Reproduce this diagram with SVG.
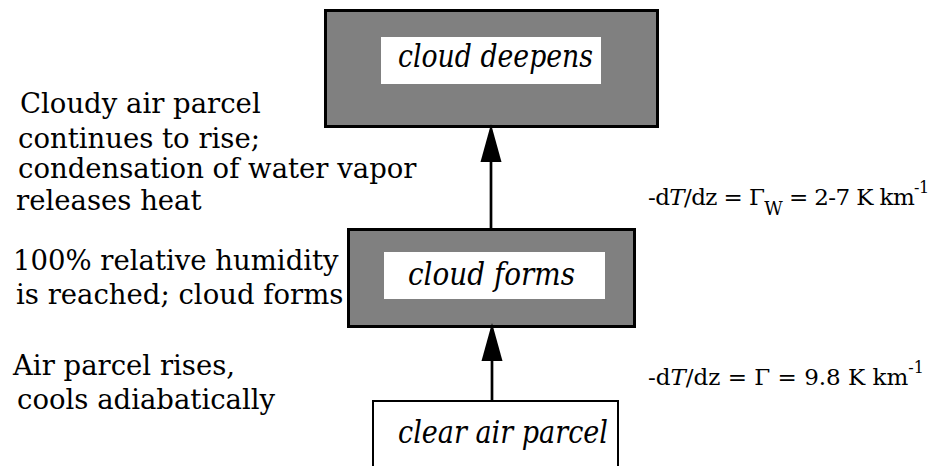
<svg xmlns="http://www.w3.org/2000/svg" width="938" height="466" viewBox="0 0 938 466">
<style>
.box{fill:#808080;stroke:#000;stroke-width:3}
.clear{fill:#fff;stroke:#000;stroke-width:2}
.inner{fill:#fff;stroke:none}
.lbl{font-family:"DejaVu Serif","Liberation Serif",serif;font-style:italic;font-size:31px;fill:#000}
.note{font-family:"DejaVu Serif","Liberation Serif",serif;font-size:27.5px;fill:#000}
.eq{font-family:"DejaVu Serif","Liberation Serif",serif;font-size:23px;fill:#000}
.conn{stroke:#000;stroke-width:2.7;fill:none;marker-end:url(#ah)}
</style>
<defs>
<marker id="ah" markerUnits="userSpaceOnUse" markerWidth="40" markerHeight="24" viewBox="0 -12 40 24" refX="0" refY="0" orient="auto">
<path d="M0,-10.5 L38,0 L0,10.5 Z" fill="#000"/>
</marker>
</defs>
<rect width="938" height="466" fill="#fff"/>
<g id="node-deepens">
<rect class="box" x="325.5" y="10.5" width="332" height="116"/>
<rect class="inner" x="381" y="37" width="220" height="47"/>
<text class="lbl" x="398" y="67" textLength="195" lengthAdjust="spacingAndGlyphs">cloud deepens</text>
</g>
<g id="node-forms">
<rect class="box" x="348.5" y="229.5" width="286" height="97"/>
<rect class="inner" x="384" y="252" width="221" height="47"/>
<text class="lbl" x="408" y="285" textLength="167" lengthAdjust="spacingAndGlyphs">cloud forms</text>
</g>
<g id="node-clear">
<rect class="clear" x="373" y="401" width="245" height="80"/>
<text class="lbl" x="398" y="443" textLength="210" lengthAdjust="spacingAndGlyphs">clear air parcel</text>
</g>
<g id="connectors">
<line class="conn" x1="491" y1="228" x2="491" y2="162"/>
<line class="conn" x1="492" y1="400" x2="492" y2="361"/>
</g>
<g id="notes">
<text class="note" x="20" y="113">Cloudy air parcel</text>
<text class="note" x="18" y="148">continues to rise;</text>
<text class="note" x="18" y="178">condensation of water vapor</text>
<text class="note" x="16" y="210">releases heat</text>
<text class="note" x="13" y="270">100% relative humidity</text>
<text class="note" x="16" y="304">is reached; cloud forms</text>
<text class="note" x="13" y="375">Air parcel rises,</text>
<text class="note" x="17" y="409">cools adiabatically</text>
</g>
<g id="equations">
<text class="eq" x="648" y="205" font-size="22.5" letter-spacing="-0.6">-d<tspan font-style="italic">T</tspan>/dz = Γ<tspan font-size="18" dy="10">W</tspan><tspan dy="-10"> = 2-7 K km</tspan><tspan font-size="16" dy="-12">-1</tspan></text>
<text class="eq" x="648" y="385">-d<tspan font-style="italic">T</tspan>/dz = Γ = 9.8 K km<tspan font-size="16" dy="-12">-1</tspan></text>
</g>
</svg>
